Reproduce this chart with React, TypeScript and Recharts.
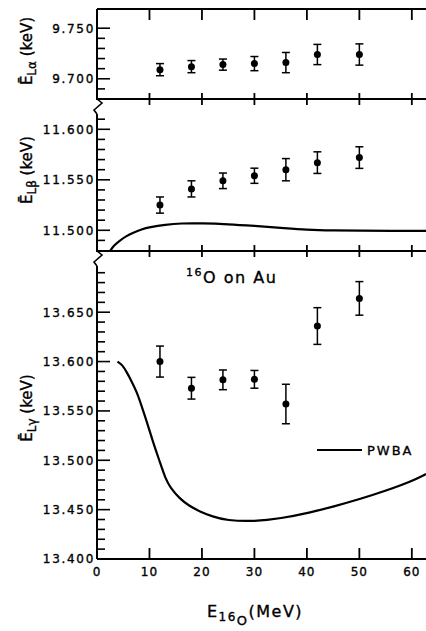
import React from "react";
import { ComposedChart, Line, Scatter, ErrorBar, XAxis, YAxis } from "recharts";

// beam energies of the measured points (MeV)
const energies = [12, 18, 24, 30, 36, 42, 50];

const alphaMean = [9.709, 9.712, 9.714, 9.715, 9.716, 9.724, 9.724];
const alphaErr = [0.006, 0.006, 0.0055, 0.007, 0.01, 0.01, 0.0105];

const betaMean = [11.525, 11.541, 11.549, 11.554, 11.56, 11.567, 11.572];
const betaErr = [0.008, 0.008, 0.0077, 0.0075, 0.011, 0.0107, 0.0107];

const gammaMean = [13.6, 13.573, 13.5815, 13.582, 13.557, 13.636, 13.664];
const gammaErr = [0.0157, 0.011, 0.01, 0.009, 0.02, 0.0186, 0.017];

// PWBA curves
const betaCurveE = [2.5, 3.2, 4.4, 5.5, 6.9, 8.5, 10, 13, 16, 20, 25, 30, 35, 40, 45, 50, 56, 62.7];
const betaCurveV = [
  11.4795, 11.485, 11.49, 11.494, 11.4977, 11.501, 11.503, 11.5055, 11.507, 11.507, 11.506,
  11.5043, 11.5025, 11.5005, 11.4998, 11.4996, 11.4995, 11.4995,
];
const gammaCurveE = [
  3.9, 4.8, 5.7, 6.6, 7.6, 8.5, 9.5, 10.7, 12, 13, 14, 15.8, 17.5, 19.6, 22, 24.7, 30, 35, 40.6,
  45, 50.3, 55, 60.1, 62.7,
];
const gammaCurveV = [
  13.6, 13.597, 13.589, 13.58, 13.569, 13.555, 13.539, 13.518, 13.498, 13.482, 13.472, 13.461,
  13.454, 13.448, 13.443, 13.439, 13.438, 13.441, 13.447, 13.453, 13.461, 13.469, 13.479, 13.486,
];

// axis ticks
const xTicks = [0, 10, 20, 30, 40, 50, 60];
const alphaTicks = [9.69, 9.7, 9.71, 9.72, 9.73, 9.74, 9.75];
const alphaLabels = [9.7, 9.75];
const betaTicks = [11.49, 11.5, 11.51, 11.52, 11.53, 11.54, 11.55, 11.56, 11.57, 11.58, 11.59, 11.6, 11.61];
const betaLabels = [11.5, 11.55, 11.6];
const gammaTicks = [
  13.4, 13.41, 13.42, 13.43, 13.44, 13.45, 13.46, 13.47, 13.48, 13.49, 13.5, 13.51, 13.52, 13.53,
  13.54, 13.55, 13.56, 13.57, 13.58, 13.59, 13.6, 13.61, 13.62, 13.63, 13.64, 13.65, 13.66, 13.67,
  13.68, 13.69,
];
const gammaLabels = [13.4, 13.45, 13.5, 13.55, 13.6, 13.65];

const FONT = "'DejaVu Sans', sans-serif";
const W = 426;
const H = 631;
// slight outline makes the type look as heavy as the printed labels
const INK = { fill: "#000", stroke: "#000", strokeWidth: 0.35 };

const toPoints = (xs: number[], ys: number[], errs: number[]) =>
  xs.map((x, i) => ({ x, y: ys[i], err: errs[i] }));
const toCurve = (xs: number[], ys: number[]) => xs.map((x, i) => ({ x, y: ys[i] }));

function makeXTick(kind: "top" | "cross" | "final") {
  return function XTick(props: any) {
    const { x, y, payload } = props;
    const v = payload.value as number;
    let line = null;
    if (v !== 0) {
      if (kind === "top") line = <line x1={x} x2={x} y1={y} y2={y + 11} stroke="#000" strokeWidth={1.8} />;
      if (kind === "cross") line = <line x1={x} x2={x} y1={y - 6} y2={y + 6} stroke="#000" strokeWidth={1.8} />;
      if (kind === "final") line = <line x1={x} x2={x} y1={y - 11} y2={y} stroke="#000" strokeWidth={1.8} />;
    }
    return (
      <g>
        {line}
        {kind === "final" && (
          <text x={x} y={y + 17} textAnchor="middle" fontFamily={FONT} fontSize={12} letterSpacing={1} {...INK}>
            {v}
          </text>
        )}
      </g>
    );
  };
}

function makeYTick(labels: number[]) {
  return function YTick(props: any) {
    const { x, y, payload } = props;
    const v = payload.value as number;
    const major = labels.some((m) => Math.abs(m - v) < 1e-6);
    return (
      <g>
        <line x1={x} x2={x + (major ? 13 : 8)} y1={y} y2={y} stroke="#000" strokeWidth={1.6} />
        {major && (
          <text x={x - 2} y={y} dy="0.36em" textAnchor="end" fontFamily={FONT} fontSize={12} letterSpacing={1.7} {...INK}>
            {v.toFixed(3)}
          </text>
        )}
      </g>
    );
  };
}

const Dot = (props: any) => <circle cx={props.cx} cy={props.cy} r={3.5} fill="#000" />;

interface PanelProps {
  top: number;
  bottom: number;
  domain: [number, number];
  ticks: number[];
  labels: number[];
  points: { x: number; y: number; err: number }[];
  curve?: { x: number; y: number }[];
  topAxis?: boolean;
  bottomKind: "cross" | "final";
}

function Panel({ top, bottom, domain, ticks, labels, points, curve, topAxis, bottomKind }: PanelProps) {
  // axes get a 1px band; a zero-height axis is not drawn
  const margin = { top: topAxis ? top - 1 : top, right: 0, bottom: H - bottom - 1, left: 0 };
  return (
    <div style={{ position: "absolute", left: 0, top: 0 }}>
      <ComposedChart width={W} height={H} margin={margin}>
        <XAxis
          xAxisId="b"
          dataKey="x"
          type="number"
          domain={[0, 62.7]}
          allowDataOverflow
          ticks={xTicks}
          interval={0}
          height={1}
          tickSize={0}
          tickMargin={0}
          tick={makeXTick(bottomKind)}
          axisLine={{ stroke: "#000", strokeWidth: 2 }}
        />
        {topAxis && (
          <XAxis
            xAxisId="t"
            orientation="top"
            dataKey="x"
            type="number"
            domain={[0, 62.7]}
            allowDataOverflow
            ticks={xTicks}
            interval={0}
            height={1}
            tickSize={0}
            tickMargin={0}
            tick={makeXTick("top")}
            axisLine={{ stroke: "#000", strokeWidth: 2 }}
          />
        )}
        <YAxis
          dataKey="y"
          type="number"
          domain={domain}
          allowDataOverflow
          ticks={ticks}
          interval={0}
          width={97}
          tickSize={0}
          tickMargin={0}
          tick={makeYTick(labels)}
          axisLine={{ stroke: "#000", strokeWidth: 2 }}
        />
        {curve && (
          <Line
            xAxisId="b"
            data={curve}
            dataKey="y"
            type="basis"
            stroke="#000"
            strokeWidth={2.2}
            dot={false}
            isAnimationActive={false}
          />
        )}
        <Scatter xAxisId="b" data={points} dataKey="y" shape={Dot} isAnimationActive={false}>
          <ErrorBar dataKey="err" direction="y" width={4} stroke="#000" strokeWidth={1.5} />
        </Scatter>
      </ComposedChart>
    </div>
  );
}

function Break({ y }: { y: number }) {
  return (
    <g>
      <rect x={92} y={y + 1} width={9} height={14} fill="#fff" />
      <path d={`M97 ${y} L102 ${y + 4} L94 ${y + 11} L97 ${y + 15}`} fill="none" stroke="#000" strokeWidth={1.6} />
    </g>
  );
}

function YTitle({ cx, cy, sub }: { cx: number; cy: number; sub: string }) {
  return (
    <text x={cx} y={cy} transform={`rotate(-90 ${cx} ${cy})`} textAnchor="middle" dy="0.35em" fontFamily={FONT} fontSize={15} {...INK}>
      <tspan>Ē</tspan>
      <tspan dy={4} fontSize={12}>{sub}</tspan>
      <tspan dy={-4}> (keV)</tspan>
    </text>
  );
}

export default function App() {
  return (
    <div style={{ position: "absolute", left: 0, top: 0, width: W, height: H, background: "#fff" }}>
      <Panel
        top={9}
        bottom={99}
        domain={[9.68, 9.769]}
        ticks={alphaTicks}
        labels={alphaLabels}
        points={toPoints(energies, alphaMean, alphaErr)}
        topAxis
        bottomKind="cross"
      />
      <Panel
        top={99}
        bottom={251}
        domain={[11.4795, 11.63]}
        ticks={betaTicks}
        labels={betaLabels}
        points={toPoints(energies, betaMean, betaErr)}
        curve={toCurve(betaCurveE, betaCurveV)}
        bottomKind="cross"
      />
      <Panel
        top={251}
        bottom={559}
        domain={[13.4, 13.712]}
        ticks={gammaTicks}
        labels={gammaLabels}
        points={toPoints(energies, gammaMean, gammaErr)}
        curve={toCurve(gammaCurveE, gammaCurveV)}
        bottomKind="final"
      />
      <svg width={W} height={H} style={{ position: "absolute", left: 0, top: 0 }}>
        <Break y={99} />
        <Break y={251} />
        <YTitle cx={27} cy={51} sub="Lα" />
        <YTitle cx={27} cy={170} sub="Lβ" />
        <YTitle cx={27} cy={408} sub="Lγ" />
        <text x={186} y={283} fontFamily={FONT} fontSize={16} letterSpacing={1.5} {...INK}>
          <tspan fontSize={11} dy={-7}>16</tspan>
          <tspan dy={7}>O on Au</tspan>
        </text>
        <line x1={317} x2={362} y1={450} y2={450} stroke="#000" strokeWidth={2.2} />
        <text x={367} y={450} dy="0.36em" fontFamily={FONT} fontSize={13} letterSpacing={2} {...INK}>
          PWBA
        </text>
        <text x={255} y={617} textAnchor="middle" fontFamily={FONT} fontSize={16} letterSpacing={1.5} {...INK}>
          E<tspan dy={4} fontSize={12}>16</tspan>
          <tspan dy={4} fontSize={13}>O</tspan>
          <tspan dy={-8}>(MeV)</tspan>
        </text>
      </svg>
    </div>
  );
}
